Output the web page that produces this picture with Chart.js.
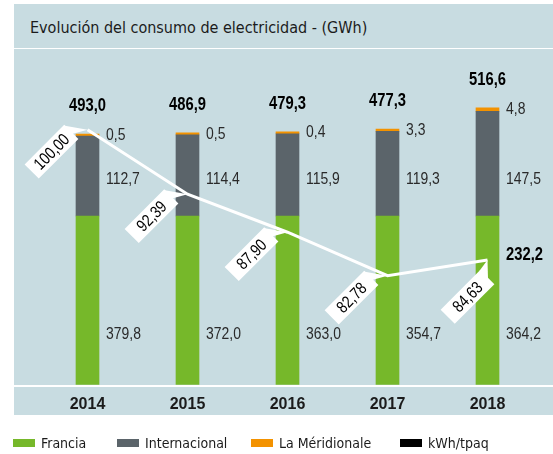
<!DOCTYPE html>
<html><head><meta charset="utf-8">
<script src="https://cdn.jsdelivr.net/npm/chart.js@4/dist/chart.umd.min.js"></script>
<style>
html,body{margin:0;padding:0;background:#fff;width:553px;height:454px;overflow:hidden;}
#panel{position:absolute;left:14px;top:4px;width:539px;height:411px;background:#c8dce1;}
#sep{position:absolute;left:14px;top:48px;width:539px;height:1px;background:#fff;}
#title{position:absolute;left:30px;top:18px;font-family:"DejaVu Sans Condensed","DejaVu Sans",sans-serif;font-size:16px;color:#1b1b1b;white-space:nowrap;}
#c{position:absolute;left:0;top:0;}
.lg{position:absolute;top:433px;height:20px;display:flex;align-items:center;font-family:"DejaVu Sans Condensed","DejaVu Sans",sans-serif;font-size:14px;color:#1b1b1b;white-space:nowrap;}
.lg i{display:inline-block;width:22px;height:8px;margin-right:6px;}
</style></head>
<body>
<div id="panel"></div>
<div id="sep"></div>
<div id="title">Evolución del consumo de electricidad - (GWh)</div>
<canvas id="c" width="553" height="454"></canvas>
<div class="lg" style="left:13px"><i style="background:#76b82a"></i>Francia</div>
<div class="lg" style="left:117px"><i style="background:#5b646a"></i>Internacional</div>
<div class="lg" style="left:251px"><i style="background:#f39200"></i>La Méridionale</div>
<div class="lg" style="left:400px"><i style="background:#000"></i>kWh/tpaq</div>
<script>
const years = ['2014', '2015', '2016', '2017', '2018'];
const francia = [379.8, 372.0, 363.0, 354.7, 364.2];
const internacional = [112.7, 114.4, 115.9, 119.3, 147.5];
const meridionale = [0.5, 0.5, 0.4, 3.3, 4.8];
const totales = [493.0, 486.9, 479.3, 477.3, 516.6];
const kwhIndice = [100.00, 92.39, 87.90, 82.78, 84.63];
const kwhUltimo = [null, null, null, null, 232.2];

const GREEN = '#76b82a', GREY = '#5b646a', ORANGE = '#f39200';
const NUMFONT = '"Liberation Sans","Arimo",Arial,sans-serif';
const fmt1 = v => v.toFixed(1).replace('.', ',');
const fmt2 = v => v.toFixed(2).replace('.', ',');

function narrowText(ctx, text, x, y, align, font, color) {
  ctx.save();
  ctx.font = font;
  ctx.fillStyle = color;
  ctx.textAlign = align;
  ctx.textBaseline = 'middle';
  ctx.translate(x, y);
  ctx.scale(0.82, 1);
  ctx.fillText(text, 0, 0);
  ctx.restore();
}

const labelsPlugin = {
  id: 'labels',
  afterDatasetsDraw(chart) {
    const ctx = chart.ctx;
    const area = chart.chartArea;
    const yS = chart.scales.y;
    const zeroPx = yS.getPixelForValue(0);
    const lineMeta = chart.getDatasetMeta(0);
    const fMeta = chart.getDatasetMeta(1);
    const mMeta = chart.getDatasetMeta(3);
    const reg = '17px ' + NUMFONT, bold = 'bold 18px ' + NUMFONT;
    for (let i = 0; i < years.length; i++) {
      const bar = fMeta.data[i];
      const right = bar.x + bar.width / 2 + 7;
      narrowText(ctx, fmt1(francia[i]), right, area.bottom - 50, 'left', reg, '#2a2a2a');
      narrowText(ctx, fmt1(internacional[i]), right, zeroPx - 37, 'left', reg, '#2a2a2a');
      const top = mMeta.data[i].y;
      narrowText(ctx, fmt1(meridionale[i]), right, top + 1, 'left', reg, '#2a2a2a');
      narrowText(ctx, fmt1(totales[i]), bar.x, top - 28, 'center', bold, '#000');
      if (kwhUltimo[i] !== null) {
        narrowText(ctx, fmt1(kwhUltimo[i]), right, lineMeta.data[i].y - 5, 'left', bold, '#000');
      }
    }
    // callouts on the line
    const w = 56, h = 20;
    for (let i = 0; i < kwhIndice.length; i++) {
      const p = lineMeta.data[i];
      const off = i === 4 ? [-20, 37] : [-36, 22];
      const cx = p.x + off[0], cy = p.y + off[1];
      const dx = p.x - cx, dy = p.y - cy;
      const c = Math.SQRT1_2;
      const lx = dx * c - dy * c, ly = dx * c + dy * c;
      ctx.save();
      ctx.translate(cx, cy);
      ctx.rotate(-Math.PI / 4);
      ctx.fillStyle = '#fff';
      ctx.fillRect(-w / 2, -h / 2, w, h);
      ctx.beginPath();
      ctx.moveTo(w / 2 - 1, -h / 2);
      ctx.lineTo(lx, ly);
      ctx.lineTo(w / 2 - 1, h / 2 - 8);
      ctx.closePath();
      ctx.fill();
      narrowText(ctx, fmt2(kwhIndice[i]), 0, 1, 'center', '17px ' + NUMFONT, '#000');
      ctx.restore();
    }
  }
};

const baseLines = {
  id: 'baseLines',
  beforeDatasetsDraw(chart) {
    const ctx = chart.ctx;
    ctx.save();
    ctx.fillStyle = '#fff';
    ctx.fillRect(14, Math.round(chart.chartArea.bottom), 539, 2);
    ctx.restore();
  }
};

new Chart(document.getElementById('c'), {
  data: {
    labels: years,
    datasets: [
      { type: 'line', label: 'kWh/tpaq', data: kwhIndice, yAxisID: 'y2', borderColor: '#fff', borderWidth: 3, pointRadius: 0, tension: 0, order: 0, clip: false },
      { type: 'bar', label: 'Francia', data: francia.map(v => -v), backgroundColor: GREEN, stack: 's', order: 1 },
      { type: 'bar', label: 'Internacional', data: internacional, backgroundColor: GREY, stack: 's', order: 1 },
      { type: 'bar', label: 'La Méridionale', data: meridionale, backgroundColor: ORANGE, stack: 's', order: 1, minBarLength: 2 }
    ]
  },
  options: {
    responsive: false,
    animation: false,
    events: [],
    layout: { padding: { left: 37.5, right: 15.5, top: 50, bottom: 30 } },
    datasets: { bar: { barThickness: 23 } },
    plugins: { legend: { display: false }, tooltip: { enabled: false }, title: { display: false } },
    scales: {
      x: { stacked: true, grid: { display: false, drawTicks: false }, border: { display: false },
           ticks: { padding: 10, color: '#1b1b1b', font: { family: NUMFONT, size: 16, weight: 'bold' } } },
      y: { stacked: true, display: false, min: -238, max: 234 },
      y2: { display: false, min: 69.9, max: 109.4 }
    }
  },
  plugins: [baseLines, labelsPlugin]
});
</script>
</body></html>
